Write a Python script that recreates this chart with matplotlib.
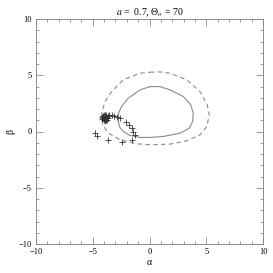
import numpy as np
import matplotlib
matplotlib.use("Agg")
import matplotlib.pyplot as plt

# внутренняя кривая (сплошная)
solid_x = [0.04, 0.92, 1.81, 2.98, 3.63, 3.86, 3.80, 3.51, 2.69, 1.22, 0.04, -0.84, -1.72, -2.31, -2.66, -2.76,
           -2.70, -2.45, -1.87, -0.84, 0.04]
solid_y = [3.99, 3.99, 3.70, 3.11, 2.37, 1.63, 0.89, 0.30, -0.15, -0.44, -0.53, -0.53, -0.35, 0.00, 0.44, 1.10,
           1.70, 2.25, 2.96, 3.70, 3.99]

# внешняя кривая (пунктир)
dash_x = [0.04, 0.92, 1.81, 3.28, 4.45, 5.09, 5.27, 5.04, 4.45, 3.28, 1.81, 0.04, -1.13, -2.60, -3.63, -4.12,
          -4.21, -3.92, -3.33, -2.31, -0.84, 0.04]
dash_y = [5.27, 5.30, 5.18, 4.59, 3.55, 2.37, 1.48, 0.44, -0.30, -0.83, -1.12, -1.18, -1.09, -0.74, -0.15, 0.59,
          1.63, 2.66, 3.55, 4.59, 5.18, 5.27]

# точки
pts_x = [-3.92, -3.80, -4.05, -3.95, -3.85, -4.12, -3.72, -3.90, -4.18, -3.98, -3.68, -3.92, -4.06, -3.82, -3.64,
         -4.10, -3.78, -3.96, -4.22, -3.70, -3.88, -4.00,
         -3.55, -3.33, -3.10, -2.89, -2.60,
         -2.07, -1.78, -1.57, -1.43, -1.28,
         -4.80, -4.60, -3.63, -2.45, -1.57]
pts_y = [1.24, 1.32, 1.12, 1.40, 1.06, 1.22, 1.16, 1.46, 1.10, 0.98, 1.34, 1.00, 1.34, 1.44, 1.42,
         1.38, 1.04, 1.20, 1.28, 1.24, 0.95, 1.50,
         1.45, 1.48, 1.42, 1.33, 1.19,
         0.83, 0.59, 0.30, 0.00, -0.30,
         -0.15, -0.38, -0.74, -0.94, -0.74]

plt.rcParams['font.family'] = ['Liberation Serif', 'DejaVu Serif']
plt.rcParams['mathtext.fontset'] = 'stix'

fig = plt.figure(figsize=(2.73, 2.73), dpi=100)
ax = fig.add_axes([36/273, 29/273, 227/273, 225/273])

grey = '#8a8a8a'
ax.plot(solid_x, solid_y, color=grey, lw=0.8)
ax.plot(dash_x, dash_y, color=grey, lw=0.8, linestyle=(0, (4, 3)))
ax.plot(pts_x, pts_y, linestyle='none', marker='+', color='#333333', markersize=4.5, markeredgewidth=0.6)

ax.set_xlim(-10, 10)
ax.set_ylim(-10, 10)
ax.set_xticks([-10, -5, 0, 5, 10])
ax.set_yticks([-10, -5, 0, 5, 10])
ax.set_xticklabels(['\u221210', '\u22125', '0', '5', '10'])
ax.set_yticklabels(['\u221210', '\u22125', '0', '5', '10'])
ax.set_xticks(np.arange(-10, 11, 1), minor=True)
ax.set_yticks(np.arange(-10, 11, 1), minor=True)
ax.tick_params(which='both', direction='in', top=True, right=True, color=grey, width=0.6, labelsize=6, pad=3)
ax.tick_params(which='major', length=5)
ax.tick_params(which='minor', length=2.5)
for s in ax.spines.values():
    s.set_color(grey)
    s.set_linewidth(0.7)

ax.set_xlabel('\u03b1', fontsize=7, labelpad=1)
ax.set_ylabel('\u03b2', fontsize=7, labelpad=2)
ax.set_title('$a$ =  0.7, \u0398$_o$ = 70', fontsize=7, pad=3)

fig.savefig('out.png', dpi=100)
